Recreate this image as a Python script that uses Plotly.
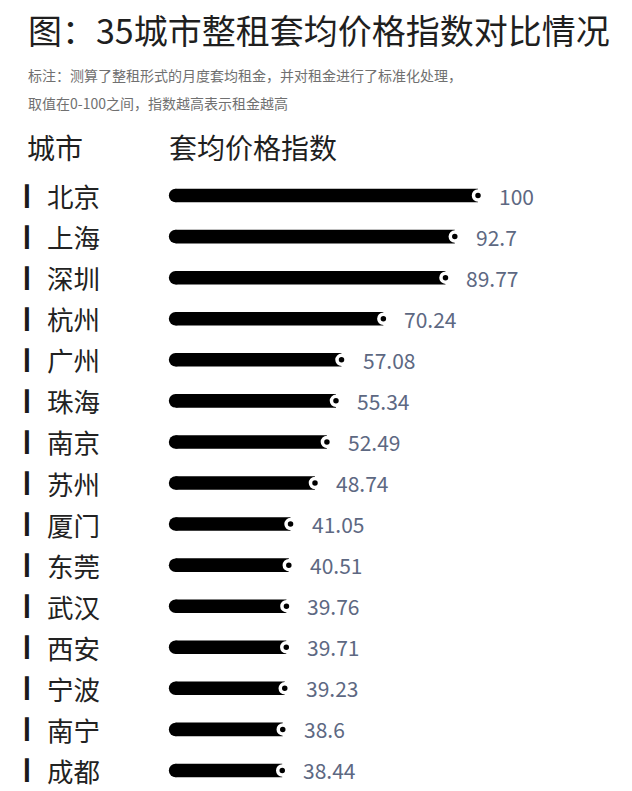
import plotly.graph_objects as go

cities = ["北京", "上海", "深圳", "杭州", "广州", "珠海", "南京", "苏州",
          "厦门", "东莞", "武汉", "西安", "宁波", "南宁", "成都"]
index_values = [100, 92.7, 89.77, 70.24, 57.08, 55.34, 52.49, 48.74,
                41.05, 40.51, 39.76, 39.71, 39.23, 38.6, 38.44]
value_labels = ["100", "92.7", "89.77", "70.24", "57.08", "55.34", "52.49", "48.74",
                "41.05", "40.51", "39.76", "39.71", "39.23", "38.6", "38.44"]

title_text = "图：35城市整租套均价格指数对比情况"
note_lines = ["标注：测算了整租形式的月度套均租金，并对租金进行了标准化处理，",
              "取值在0-100之间，指数越高表示租金越高"]
col_headers = ["城市", "套均价格指数"]

W, H = 632, 791
TOP = 175            # top of the plot area in px
PX_PER_UNIT = 3.18
ZERO_PX = 160
BAR_START = 4.9
FONT = "Noto Sans CJK SC"

fig = go.Figure()

# bar body
fig.add_trace(go.Bar(
    y=cities,
    x=[v - BAR_START for v in index_values],
    base=BAR_START,
    orientation="h",
    marker=dict(color="black", line=dict(width=0)),
    width=0.33,
    hoverinfo="skip",
))
# rounded left end
fig.add_trace(go.Scatter(
    y=cities,
    x=[BAR_START] * len(cities),
    mode="markers",
    marker=dict(color="black", size=13.5, line=dict(width=0)),
    hoverinfo="skip",
))
# end dot with white ring
fig.add_trace(go.Scatter(
    y=cities,
    x=index_values,
    mode="markers",
    marker=dict(color="black", size=9, line=dict(width=3.5, color="white")),
    hoverinfo="skip",
))

annotations = []
for city, v, lab in zip(cities, index_values, value_labels):
    annotations.append(dict(
        x=v, y=city, xref="x", yref="y", text=lab, showarrow=False,
        xanchor="left", xshift=19,
        font=dict(family=FONT, size=21, color="#5d6882")))
    annotations.append(dict(
        x=22 / W, y=city, xref="paper", yref="y", text="▎", showarrow=False,
        xanchor="left", font=dict(family="DejaVu Sans", size=20, color="#1a1a1a")))
    annotations.append(dict(
        x=45 / W, y=city, xref="paper", yref="y", text=city, showarrow=False,
        xanchor="left", font=dict(family=FONT, size=26.5, color="#222222")))

# page texts above the plot, placed by pixel row
plot_h = H - TOP
top_px = [(title_text, 26, 30, 34, "#1f1f1f"),
          (note_lines[0], 26, 75, 14, "#707070"),
          (note_lines[1], 26, 103, 14, "#707070"),
          (col_headers[0], 25, 147, 28, "#1f1f1f"),
          (col_headers[1], 167, 147, 28, "#1f1f1f")]
for txt, xp, yp, sz, col in top_px:
    annotations.append(dict(
        x=xp / W, y=(H - yp) / plot_h, xref="paper", yref="paper",
        yanchor="middle", xanchor="left", text=txt, showarrow=False,
        font=dict(family=FONT, size=sz, color=col)))

fig.update_layout(
    width=W,
    height=H,
    margin=dict(l=0, r=0, t=TOP, b=0),
    paper_bgcolor="white",
    plot_bgcolor="white",
    showlegend=False,
    annotations=annotations,
)

fig.update_xaxes(range=[-ZERO_PX / PX_PER_UNIT, (W - ZERO_PX) / PX_PER_UNIT],
                 visible=False, fixedrange=True)
fig.update_yaxes(range=[len(cities) - 0.5, -0.5], visible=False, fixedrange=True)

fig.write_html("out.html", config={"displayModeBar": False},
               post_script="document.body.style.margin='0';")
